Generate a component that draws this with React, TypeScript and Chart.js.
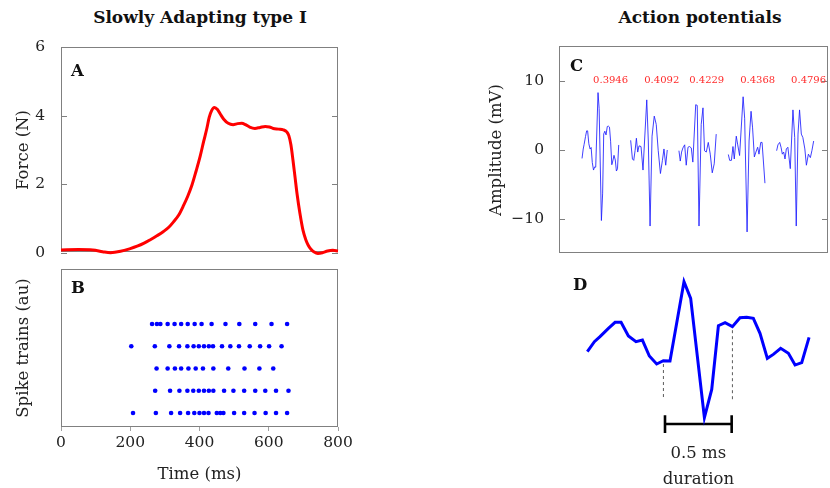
import React, { useEffect, useRef } from "react";
import { Chart, registerables } from "chart.js";

Chart.register(...registerables);

const SERIF = "'DejaVu Serif', serif";
const FRAME = "#808080";
const TEXT = "#222222";

// ---------- Panel A: force ----------
const forceTime = [0, 50, 92, 120, 143, 172, 200, 220, 240, 258, 278, 296, 312, 325, 340, 354, 366, 378, 390, 402, 412, 421, 428, 435, 443, 452, 460, 470, 483, 497, 510, 522, 533, 545, 560, 575, 590, 602, 613, 628, 642, 652, 658, 664, 670, 676, 682, 690, 699, 707, 714, 722, 730, 742, 755, 770, 785, 800];
const forceValues = [0.08, 0.09, 0.08, 0.03, 0.0, 0.04, 0.12, 0.19, 0.28, 0.38, 0.5, 0.62, 0.75, 0.9, 1.1, 1.38, 1.65, 1.97, 2.38, 2.82, 3.25, 3.62, 3.95, 4.15, 4.24, 4.18, 4.05, 3.9, 3.78, 3.74, 3.77, 3.78, 3.74, 3.67, 3.63, 3.66, 3.69, 3.67, 3.63, 3.61, 3.59, 3.53, 3.42, 3.15, 2.7, 2.2, 1.7, 1.15, 0.65, 0.38, 0.22, 0.1, 0.03, -0.02, 0.0, 0.05, 0.07, 0.05];
const forceTicks = [0, 2, 4, 6];
const timeTicks = [0, 200, 400, 600, 800];

// ---------- Panel B: spike trains (ms) ----------
const spikeTrain1 = [263, 277, 287, 308, 328, 347, 366, 386, 406, 435, 475, 515, 561, 608, 653];
const spikeTrain2 = [203, 271, 313, 341, 365, 383, 398, 413, 427, 439, 465, 489, 514, 545, 575, 601, 637];
const spikeTrain3 = [276, 308, 329, 347, 368, 389, 410, 440, 483, 530, 573, 613];
const spikeTrain4 = [272, 315, 342, 365, 382, 398, 413, 427, 440, 471, 498, 529, 561, 590, 621, 657];
const spikeTrain5 = [208, 274, 318, 344, 367, 385, 400, 413, 426, 450, 460, 469, 500, 529, 559, 591, 621, 653];
const spikeTrainRows = [5, 4, 3, 2, 1];

// ---------- Panel D: one action potential (ms, mV) ----------
const detailTime = [0, 0.053, 0.095, 0.158, 0.208, 0.253, 0.308, 0.365, 0.413, 0.465, 0.52, 0.57, 0.62, 0.725, 0.775, 0.878, 0.933, 0.983, 1.033, 1.088, 1.145, 1.195, 1.245, 1.295, 1.35, 1.395, 1.45, 1.508, 1.558, 1.608, 1.663];
const detailAmp = [-1.22, 0.14, 0.82, 1.95, 2.77, 2.77, 0.91, 0.14, 0.36, -1.81, -2.9, -2.45, -2.49, 8.3, 6.03, -10.2, -6.35, 2.31, 2.72, 2.18, 3.4, 3.45, 3.31, 1.27, -2.13, -1.59, -0.77, -1.45, -3.04, -2.72, 0.73];
const durationStart = 0.5825;
const durationEnd = 1.0825;
const dashTimes = [0.57, 1.0875];
const dashTops = [-2.9, 1.7];
const dashBottom = -7.8;
const barLevel = -11.07;
const barTickHalf = 1.2;

// ---------- Panel C: action potentials (ms, mV) ----------
const wave1Time = detailTime;
const wave1Amp = detailAmp;
const wave2Time = [0, 0.08, 0.14, 0.2, 0.26, 0.32, 0.38, 0.47, 0.56, 0.73, 0.8, 0.88, 0.97, 1.07, 1.16, 1.25, 1.35, 1.44, 1.51, 1.59, 1.66];
const wave2Amp = [1.4, -1.3, -1.5, -0.1, 1.7, -0.3, 0.6, 0.5, -2.9, 7.25, 1.3, -11.0, 2.0, 4.9, 3.7, -0.1, -3.4, -1.5, 0.15, -2.2, 0.0];
const wave3Time = [0, 0.06, 0.12, 0.18, 0.26, 0.33, 0.41, 0.48, 0.56, 0.63, 0.76, 0.83, 0.91, 1.01, 1.09, 1.16, 1.24, 1.33, 1.42, 1.51, 1.6, 1.69];
const wave3Amp = [-0.1, -1.6, -0.3, 0.3, 0.75, -2.2, 0.4, 0.5, 0.3, -1.75, 6.55, 6.45, -11.0, 3.7, 6.1, -0.1, -0.3, 1.1, -0.6, -3.3, -2.0, 2.3];
const wave4Time = [0, 0.06, 0.14, 0.21, 0.27, 0.36, 0.42, 0.51, 0.67, 0.74, 0.85, 0.94, 1.03, 1.1, 1.18, 1.25, 1.33, 1.39, 1.47, 1.53, 1.66];
const wave4Amp = [-0.65, -1.5, -1.5, 0.5, -1.3, 2.0, 0.85, -0.8, 7.7, 4.6, -11.85, 1.3, 5.6, 3.2, -1.0, -0.3, 0.4, -0.6, 1.1, 1.1, -4.8];
const wave5Time = [0, 0.06, 0.14, 0.2, 0.26, 0.32, 0.38, 0.44, 0.51, 0.62, 0.74, 0.82, 0.89, 0.97, 1.04, 1.12, 1.19, 1.28, 1.35, 1.44, 1.53, 1.6, 1.68];
const wave5Amp = [-0.1, 0.75, 1.1, 0.4, -0.6, -0.3, -1.3, 0.15, 0.4, -2.7, 5.8, 1.8, -11.0, 2.3, 5.8, 2.3, 1.8, 0.15, -2.2, -0.6, -1.1, -0.1, 1.3];
const waveStarts = [1.045, 3.25, 5.44, 7.68, 9.87];
const waveLabels = ["0.3946", "0.4092", "0.4229", "0.4368", "0.4796"];
const waveLabelX = [2.34, 4.66, 6.7, 9.01, 11.32];
const waveLabelY = 10;
const ampTicks = [-10, 0, 10];

const toXY = (xs: number[], ys: number[], off = 0) => xs.map((x, i) => ({ x: x + off, y: ys[i] }));

const framePlugin = (letter: string, dx: number, dy: number, frame: boolean, yTicks: boolean) => ({
  id: "frame" + letter,
  beforeDatasetsDraw(chart: any) {
    const { ctx, chartArea: a } = chart;
    ctx.save();
    if (frame) {
      ctx.strokeStyle = FRAME;
      ctx.lineWidth = 1;
      ctx.strokeRect(Math.round(a.left) + 0.5, Math.round(a.top) + 0.5, Math.round(a.right - a.left) - 1, Math.round(a.bottom - a.top) - 1);
    }
    if (yTicks) {
      const ys = chart.scales.y;
      ctx.strokeStyle = FRAME;
      ctx.lineWidth = 1;
      ys.ticks.forEach((t: any) => {
        const py = Math.round(ys.getPixelForValue(t.value)) + 0.5;
        ctx.beginPath();
        ctx.moveTo(a.left, py);
        ctx.lineTo(a.left + 6, py);
        ctx.moveTo(a.right - 6, py);
        ctx.lineTo(a.right, py);
        ctx.stroke();
      });
    }
    ctx.restore();
  },
  afterDraw(chart: any) {
    const { ctx, chartArea: a } = chart;
    ctx.save();
    ctx.fillStyle = "#111";
    ctx.font = "bold 16.5px " + SERIF;
    ctx.textAlign = "left";
    ctx.textBaseline = "middle";
    ctx.fillText(letter, a.left + dx, a.top + dy);
    ctx.restore();
  },
});

const fixedTicks = (vals: number[]) => (scale: any) => {
  scale.ticks = vals.map((v) => ({ value: v }));
};

const tickFont = { family: SERIF, size: 15.5 };
const titleFont = { family: SERIF, size: 16.5 };

export default function App() {
  const refA = useRef<HTMLCanvasElement>(null);
  const refB = useRef<HTMLCanvasElement>(null);
  const refC = useRef<HTMLCanvasElement>(null);
  const refD = useRef<HTMLCanvasElement>(null);

  useEffect(() => {
    document.body.style.margin = "0";
    const charts: Chart[] = [];

    // Panel A
    charts.push(
      new Chart(refA.current!, {
        type: "line",
        data: {
          datasets: [
            {
              data: toXY(forceTime, forceValues),
              borderColor: "#ff0000",
              borderWidth: 3,
              pointRadius: 0,
              cubicInterpolationMode: "monotone",
              clip: false,
            } as any,
          ],
        },
        options: {
          animation: false,
          responsive: false,
          layout: { padding: { top: 15, right: 22, bottom: 15, left: 0 } },
          plugins: { legend: { display: false }, tooltip: { enabled: false } },
          scales: {
            x: { type: "linear", min: 0, max: 800, display: false },
            y: {
              type: "linear",
              min: 0,
              max: 6,
              afterBuildTicks: fixedTicks(forceTicks),
              afterFit: (s: any) => { s.width = 61; },
              grid: { display: false },
              border: { display: false },
              ticks: { font: tickFont, color: TEXT, padding: 8 },
              title: { display: true, text: "Force (N)", font: titleFont, color: TEXT, padding: { top: 13.4, bottom: 0 } },
            },
          },
        },
        plugins: [framePlugin("A", 10, 24, true, true)],
      })
    );

    // Panel B
    const trains = [spikeTrain1, spikeTrain2, spikeTrain3, spikeTrain4, spikeTrain5];
    charts.push(
      new Chart(refB.current!, {
        type: "scatter",
        data: {
          datasets: trains.map((tr, i) => ({
            data: tr.map((t) => ({ x: t, y: spikeTrainRows[i] })),
            backgroundColor: "#0000ff",
            borderWidth: 0,
            pointRadius: 2.3,
          })),
        },
        options: {
          animation: false,
          responsive: false,
          layout: { padding: { top: 7, right: 22, bottom: 0, left: 0 } },
          plugins: { legend: { display: false }, tooltip: { enabled: false } },
          scales: {
            x: {
              type: "linear",
              min: 0,
              max: 800,
              afterBuildTicks: fixedTicks(timeTicks),
              afterFit: (s: any) => { s.height = 61; },
              grid: { display: true, drawOnChartArea: false, drawTicks: true, tickLength: 4, color: "#a0a0a0" },
              border: { display: false },
              ticks: { font: tickFont, color: TEXT, padding: 3, maxRotation: 0 },
              title: { display: true, text: "Time (ms)", font: titleFont, color: TEXT, padding: { top: 0, bottom: 3 } },
            },
            y: {
              type: "linear",
              min: 0.371,
              max: 7.47,
              afterFit: (s: any) => { s.width = 61; },
              grid: { display: false },
              border: { display: false },
              ticks: { display: false },
              title: { display: true, text: "Spike trains (au)", font: titleFont, color: TEXT, padding: { top: 13.4, bottom: 0 } },
            },
          },
        },
        plugins: [framePlugin("B", 10, 20, true, false)],
      })
    );

    // Panel C
    const waves = [
      [wave1Time, wave1Amp],
      [wave2Time, wave2Amp],
      [wave3Time, wave3Amp],
      [wave4Time, wave4Amp],
      [wave5Time, wave5Amp],
    ];
    const labelPlugin = {
      id: "waveLabels",
      afterDatasetsDraw(chart: any) {
        const { ctx, scales } = chart;
        ctx.save();
        ctx.fillStyle = "#ff2a2a";
        ctx.font = "10px " + SERIF;
        ctx.textAlign = "center";
        ctx.textBaseline = "middle";
        waveLabels.forEach((l, i) => {
          ctx.fillText(l, scales.x.getPixelForValue(waveLabelX[i]), scales.y.getPixelForValue(waveLabelY));
        });
        ctx.restore();
      },
    };
    charts.push(
      new Chart(refC.current!, {
        type: "line",
        data: {
          datasets: waves.map(([t, a], i) => ({
            data: toXY(t, a, waveStarts[i]),
            borderColor: "rgba(30,30,255,0.85)",
            borderWidth: 1,
            pointRadius: 0,
            tension: 0,
          })),
        },
        options: {
          animation: false,
          responsive: false,
          layout: { padding: { top: 14, right: 2, bottom: 15, left: 0 } },
          plugins: { legend: { display: false }, tooltip: { enabled: false } },
          scales: {
            x: { type: "linear", min: 0, max: 12.2, display: false },
            y: {
              type: "linear",
              min: -15,
              max: 15,
              afterBuildTicks: fixedTicks(ampTicks),
              afterFit: (s: any) => { s.width = 89; },
              grid: { display: false },
              border: { display: false },
              ticks: {
                font: tickFont,
                color: TEXT,
                padding: 7,
                callback: (v: any) => String(v).replace("-", "\u2212"),
              },
              title: { display: true, text: "Amplitude (mV)", font: titleFont, color: TEXT, padding: { top: 16.8, bottom: 0 } },
            },
          },
        },
        plugins: [framePlugin("C", 11, 20, true, true), labelPlugin],
      })
    );

    // Panel D
    const durationPlugin = {
      id: "durationText",
      afterDraw(chart: any) {
        const { ctx, scales } = chart;
        const cx = scales.x.getPixelForValue((durationStart + durationEnd) / 2);
        const yb = scales.y.getPixelForValue(barLevel);
        ctx.save();
        ctx.fillStyle = TEXT;
        ctx.font = "16.5px " + SERIF;
        ctx.textAlign = "center";
        ctx.textBaseline = "middle";
        ctx.fillText("0.5 ms", cx, yb + 30);
        ctx.fillText("duration", cx, yb + 56);
        ctx.restore();
      },
    };
    const lineDs = (pts: { x: number; y: number }[], color: string, width: number, dash: number[] = []) => ({
      data: pts,
      borderColor: color,
      borderWidth: width,
      borderDash: dash,
      pointRadius: 0,
      tension: 0,
    });
    charts.push(
      new Chart(refD.current!, {
        type: "line",
        data: {
          datasets: [
            lineDs(toXY(detailTime, detailAmp), "#0000ff", 3),
            ...dashTimes.map((t, i) =>
              lineDs([{ x: t, y: dashTops[i] }, { x: t, y: dashBottom }], "#333", 0.8, [3, 3])
            ),
            lineDs([{ x: durationStart, y: barLevel }, { x: durationEnd, y: barLevel }], "#000", 2.6),
            lineDs([{ x: durationStart, y: barLevel + barTickHalf }, { x: durationStart, y: barLevel - barTickHalf }], "#000", 2.6),
            lineDs([{ x: durationEnd, y: barLevel + barTickHalf }, { x: durationEnd, y: barLevel - barTickHalf }], "#000", 2.6),
          ] as any,
        },
        options: {
          animation: false,
          responsive: false,
          layout: { padding: 0 },
          plugins: { legend: { display: false }, tooltip: { enabled: false } },
          scales: {
            x: { type: "linear", min: -0.205, max: 1.82, display: false },
            y: { type: "linear", min: -19.77, max: 10.98, display: false },
          },
        },
        plugins: [framePlugin("D", 13, 24, false, false), durationPlugin],
      })
    );

    return () => charts.forEach((c) => c.destroy());
  }, []);

  const abs = (l: number, t: number, w: number, h: number): React.CSSProperties => ({
    position: "absolute",
    left: l,
    top: t,
    width: w,
    height: h,
  });
  const titleStyle = (cx: number): React.CSSProperties => ({
    position: "absolute",
    left: cx - 200,
    width: 400,
    top: 7,
    height: 20,
    lineHeight: "20px",
    textAlign: "center",
    fontFamily: SERIF,
    fontWeight: "bold",
    fontSize: "17px",
    color: "#111",
    whiteSpace: "nowrap",
  });

  return (
    <div style={{ position: "absolute", left: 0, top: 0, width: 830, height: 488, background: "#fff", overflow: "hidden" }}>
      <div style={titleStyle(200)}>Slowly Adapting type I</div>
      <div style={titleStyle(700)}>Action potentials</div>
      <canvas ref={refA} width={360} height={240} style={abs(0, 30, 360, 240)} />
      <canvas ref={refB} width={360} height={226} style={abs(0, 262, 360, 226)} />
      <canvas ref={refC} width={360} height={240} style={abs(470, 30, 360, 240)} />
      <canvas ref={refD} width={270} height={226} style={abs(560, 262, 270, 226)} />
    </div>
  );
}
